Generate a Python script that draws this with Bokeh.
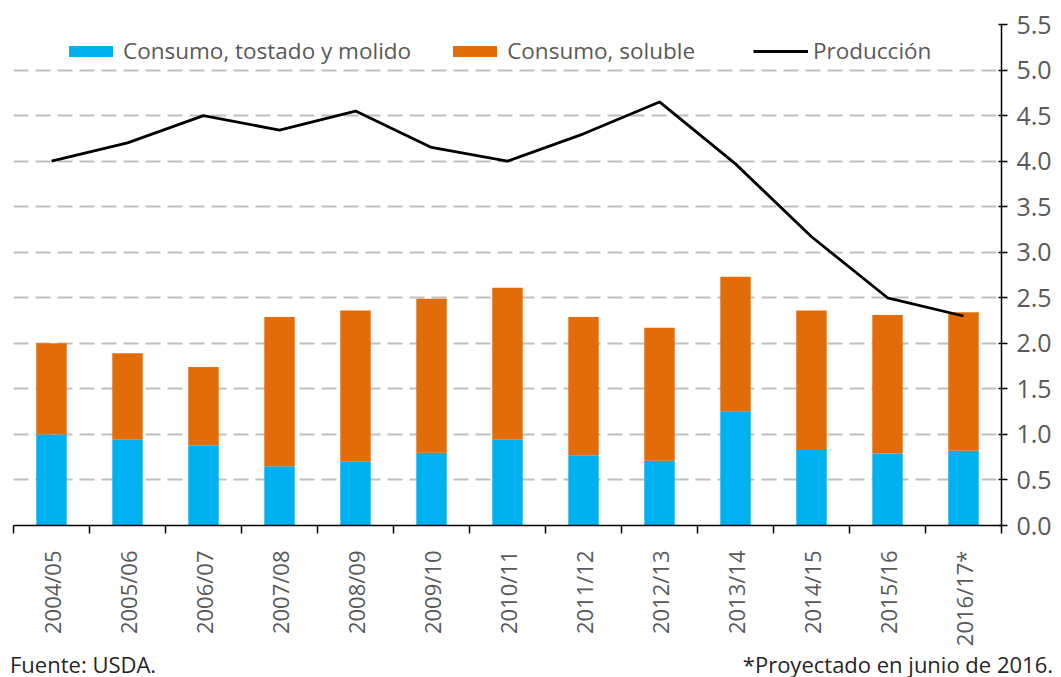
from bokeh.plotting import figure
from bokeh.models import Range1d, FixedTicker, Legend, LegendItem, ColumnDataSource, NumeralTickFormatter, Div
from bokeh.layouts import column
from bokeh.embed import file_html
from bokeh.resources import INLINE
import math

campanas = ["2004/05", "2005/06", "2006/07", "2007/08", "2008/09", "2009/10", "2010/11",
            "2011/12", "2012/13", "2013/14", "2014/15", "2015/16", "2016/17*"]
tostado = [1.00, 0.94, 0.88, 0.65, 0.70, 0.80, 0.94, 0.77, 0.71, 1.25, 0.83, 0.79, 0.82]
total = [2.00, 1.89, 1.74, 2.29, 2.36, 2.49, 2.61, 2.29, 2.17, 2.73, 2.36, 2.31, 2.34]
soluble = [round(t - a, 3) for t, a in zip(total, tostado)]
produccion = [4.00, 4.20, 4.50, 4.34, 4.55, 4.15, 4.00, 4.30, 4.65, 3.97, 3.17, 2.50, 2.30]
y_ticks = [0.0, 0.5, 1.0, 1.5, 2.0, 2.5, 3.0, 3.5, 4.0, 4.5, 5.0, 5.5]
fuente = "Fuente: USDA."
nota = "*Proyectado en junio de 2016."

BLUE = "#00B0F0"
ORANGE = "#E36C0A"
FONT = "Open Sans"
TXT = "#595959"
W = 1058

n = len(campanas)
centers = [i + 0.5 for i in range(n)]
src = ColumnDataSource(dict(x=centers, tostado=tostado, soluble=soluble, prod=produccion))

p = figure(width=W, height=652, output_backend="svg", toolbar_location=None,
           x_range=Range1d(0, n), y_range=Range1d(0, 5.5), y_axis_location="right",
           min_border_left=13, min_border_top=24, min_border_right=57, min_border_bottom=127)
p.outline_line_color = None
p.background_fill_color = "white"
p.border_fill_color = "white"

r_bars = p.vbar_stack(["tostado", "soluble"], x="x", width=0.4, source=src,
                      color=[BLUE, ORANGE], line_color=None)
r_line = p.line("x", "prod", source=src, line_color="black", line_width=2.8)

# x axis
xa = p.xaxis[0]
xa.ticker = FixedTicker(ticks=centers, minor_ticks=list(range(n + 1)))
xa.major_label_overrides = {c: lab for c, lab in zip(centers, campanas)}
xa.major_label_orientation = math.pi / 2
xa.major_tick_line_color = None
xa.minor_tick_line_color = "black"
xa.minor_tick_line_width = 1.5
xa.minor_tick_in = 0
xa.minor_tick_out = 8
xa.axis_line_color = "black"
xa.axis_line_width = 1.5
xa.major_label_text_font = FONT
xa.major_label_text_font_size = "22px"
xa.major_label_text_color = TXT
xa.major_label_standoff = 17

# y axis (right)
ya = p.yaxis[0]
ya.ticker = FixedTicker(ticks=y_ticks)
ya.formatter = NumeralTickFormatter(format="0.0")
ya.axis_line_color = "black"
ya.axis_line_width = 1.5
ya.major_tick_line_color = "black"
ya.major_tick_line_width = 1.5
ya.major_tick_in = 3
ya.major_tick_out = 6
ya.minor_tick_line_color = None
ya.major_label_text_font = FONT
ya.major_label_text_font_size = "25px"
ya.major_label_text_color = TXT
ya.major_label_standoff = 9

p.xgrid.grid_line_color = None
p.ygrid.ticker = FixedTicker(ticks=y_ticks[1:])
p.ygrid.grid_line_color = "#BFBFBF"
p.ygrid.grid_line_width = 2.2
p.ygrid.grid_line_dash = "15 7"

leg_kw = dict(orientation="horizontal", padding=0, margin=0, spacing=36, label_standoff=5,
              glyph_width=55, glyph_height=14, label_text_font=FONT,
              label_text_font_size="22.5px", label_text_color=TXT,
              background_fill_alpha=0, border_line_color=None)
legend_a = Legend(items=[
    LegendItem(label="Consumo, tostado y molido", renderers=[r_bars[0]]),
    LegendItem(label="Consumo, soluble", renderers=[r_bars[1]]),
], location=(50, 459), **leg_kw)
legend_b = Legend(items=[
    LegendItem(label="Producción", renderers=[r_line]),
], location=(740, 459), **leg_kw)
p.add_layout(legend_a, "center")
p.add_layout(legend_b, "center")

# footnotes in a strip below the chart
foot = Div(
    text=('<div style="display:flex;justify-content:space-between;width:1053px;'
          'box-sizing:border-box;'
          'font-family:\'Open Sans\';font-size:22px;line-height:24px;color:#262626;'
          'padding-left:10px;white-space:nowrap;">'
          f'<span>{fuente}</span><span>{nota}</span></div>'),
    width=W, height=25, margin=0)

layout = column(p, foot, spacing=0)
open("out.html", "w").write(file_html(layout, INLINE))
